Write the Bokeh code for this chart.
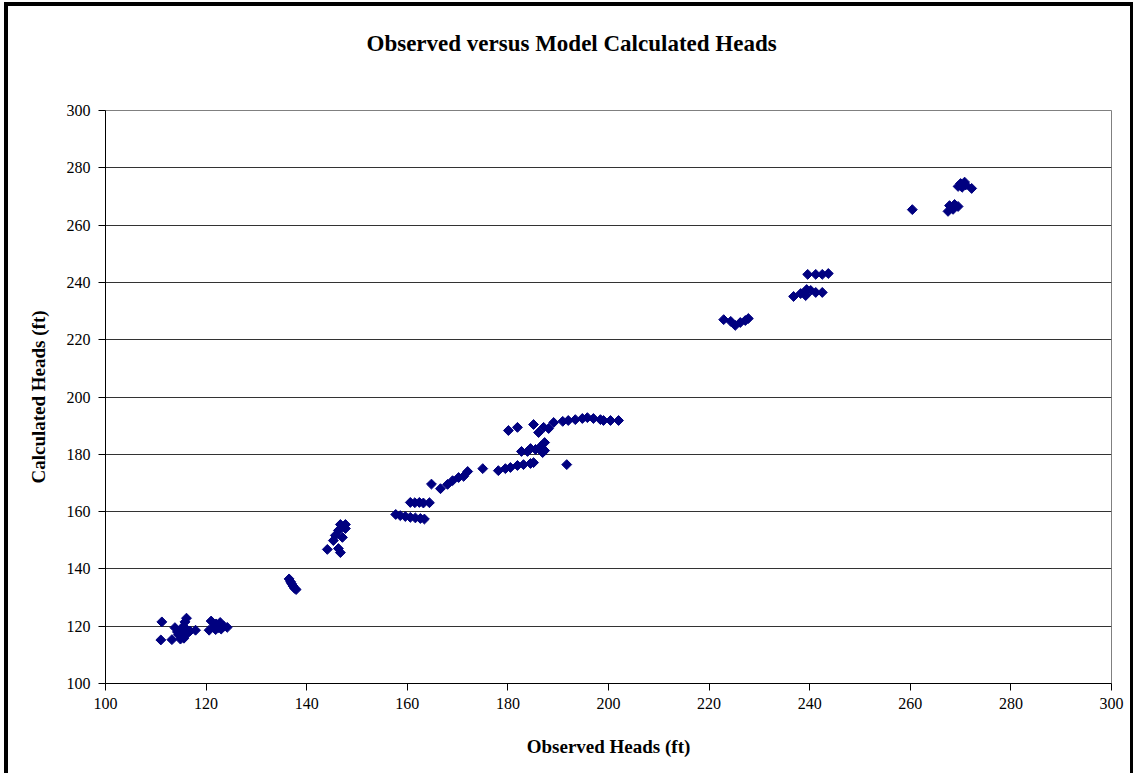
from bokeh.plotting import figure
from bokeh.models import FixedTicker, Title
from bokeh.embed import file_html
from bokeh.resources import INLINE
import math

# Observed vs. calculated heads (ft) at monitoring wells
observed = [
    111.2, 111.0, 113.2, 113.8, 114.5, 114.9, 115.3, 115.0, 115.5, 115.8,
    116.1, 116.3, 116.0, 115.6, 117.9, 116.8, 114.3, 121.0, 120.6, 121.6,
    122.0, 122.5, 123.0, 123.5, 124.2, 122.8, 121.9,
    136.5, 136.8, 137.0, 137.3, 137.6, 137.9,
    144.1, 145.3, 145.7, 146.3, 146.7, 147.7, 147.1, 146.3, 146.7, 147.7,
    157.7, 158.6, 159.6, 160.6, 161.6, 162.6, 163.4,
    160.6, 161.5, 162.4, 163.2, 164.4,
    164.8, 166.6, 168.0, 169.0, 170.2, 171.2, 172.0, 175.0,
    178.1, 179.5, 180.5, 181.9, 183.1, 184.5, 185.1,
    182.7, 183.9, 185.5, 186.5, 187.3, 187.3, 186.9, 184.5,
    180.1, 181.9, 186.1,
    185.1, 187.1, 188.1, 189.1, 190.9, 192.0, 193.4, 194.8, 195.8, 197.0,
    198.4, 199.0, 200.4, 202.0, 191.7,
    222.9, 224.3, 225.2, 226.2, 227.2, 227.8,
    236.8, 238.2, 239.2, 240.2, 241.2, 242.5, 239.4,
    239.6, 241.2, 242.5, 243.7,
    260.4, 267.5, 268.2, 268.8, 267.8, 269.5, 268.5,
    269.5, 270.0, 270.8, 270.3, 271.0, 272.2,
]
calculated = [
    121.5, 115.2, 115.3, 119.5, 117.0, 115.5, 116.2, 118.5, 120.0, 121.5,
    122.8, 117.5, 119.0, 115.8, 118.6, 118.3, 118.0, 121.8, 118.6, 119.8,
    120.8, 119.5, 119.0, 120.0, 119.6, 121.3, 118.8,
    136.5, 135.5, 134.8, 134.0, 133.2, 132.8,
    146.8, 149.9, 151.7, 153.4, 155.5, 155.5, 151.0, 147.1, 145.7, 154.1,
    159.0, 158.6, 158.3, 158.0, 157.8, 157.6, 157.4,
    163.2, 163.1, 163.2, 163.0, 163.1,
    169.6, 168.0, 169.5, 170.8, 171.9, 172.3, 174.0, 175.0,
    174.3, 175.0, 175.4, 176.1, 176.4, 176.8, 177.1,
    181.0, 181.0, 181.7, 182.7, 184.1, 181.3, 180.6, 182.0,
    188.3, 189.4, 187.6,
    190.4, 189.4, 189.0, 191.1, 191.5, 191.8, 192.1, 192.5, 192.8, 192.5,
    192.1, 191.8, 191.8, 191.8, 176.4,
    227.0, 226.4, 225.0, 226.0, 226.7, 227.4,
    235.1, 236.1, 235.4, 237.2, 236.5, 236.5, 237.5,
    242.8, 242.8, 242.8, 243.1,
    265.4, 264.8, 266.3, 267.2, 266.8, 266.5, 265.5,
    273.5, 274.5, 275.0, 273.2, 274.0, 272.8,
]
axis_ticks = [100, 120, 140, 160, 180, 200, 220, 240, 260, 280, 300]
chart_title = "Observed versus Model Calculated Heads"

SERIF = "Liberation Serif"

# canvas sits inside a black chart border (left/top/right)
p = figure(
    width=1129, height=771,
    x_range=(100, 300), y_range=(100, 300),
    output_backend="svg", toolbar_location=None,
    min_border_left=97, min_border_right=26,
    min_border_top=104, min_border_bottom=94,
)
p.styles = {
    "margin-left": "4px", "margin-top": "2px",
    "border-left": "4px solid black",
    "border-top": "4px solid black",
    "border-right": "3px solid black",
}
p.background_fill_color = "white"
p.border_fill_color = "white"
p.outline_line_color = "#808080"
p.outline_line_width = 1

# blank spacer between the frame and the chart title
p.add_layout(Title(text=" ", text_font_size="1px", standoff=52), "above")
p.add_layout(Title(
    text=chart_title, align="left", offset=261, standoff=0,
    text_font=SERIF, text_font_size="23px", text_font_style="bold",
    text_color="black",
), "above")

# axes
for ax in (p.xaxis[0], p.yaxis[0]):
    ax.ticker = FixedTicker(ticks=axis_ticks)
    ax.axis_line_color = "black"
    ax.axis_line_width = 1
    ax.major_tick_line_color = "black"
    ax.major_tick_out = 7
    ax.major_tick_in = 0
    ax.minor_tick_line_color = None
    ax.major_label_text_font = SERIF
    ax.major_label_text_font_size = "16px"
    ax.major_label_text_color = "black"
    ax.axis_label_text_font = SERIF
    ax.axis_label_text_font_size = "19px"
    ax.axis_label_text_font_style = "bold"
    ax.axis_label_text_color = "black"

p.xaxis.axis_label = "Observed Heads (ft)"
p.yaxis.axis_label = "Calculated Heads (ft)"
p.xaxis.major_label_standoff = 7
p.xaxis.axis_label_standoff = 24
p.yaxis.major_label_standoff = 8
p.yaxis.axis_label_standoff = 15

p.xgrid.grid_line_color = None
p.ygrid.ticker = FixedTicker(ticks=axis_ticks)
p.ygrid.grid_line_color = "#333333"
p.ygrid.grid_line_width = 1

p.scatter(observed, calculated, marker="square", angle=math.pi / 4,
          size=7, fill_color="#000080", line_color="#000080")

open("out.html", "w").write(file_html(p, INLINE))
